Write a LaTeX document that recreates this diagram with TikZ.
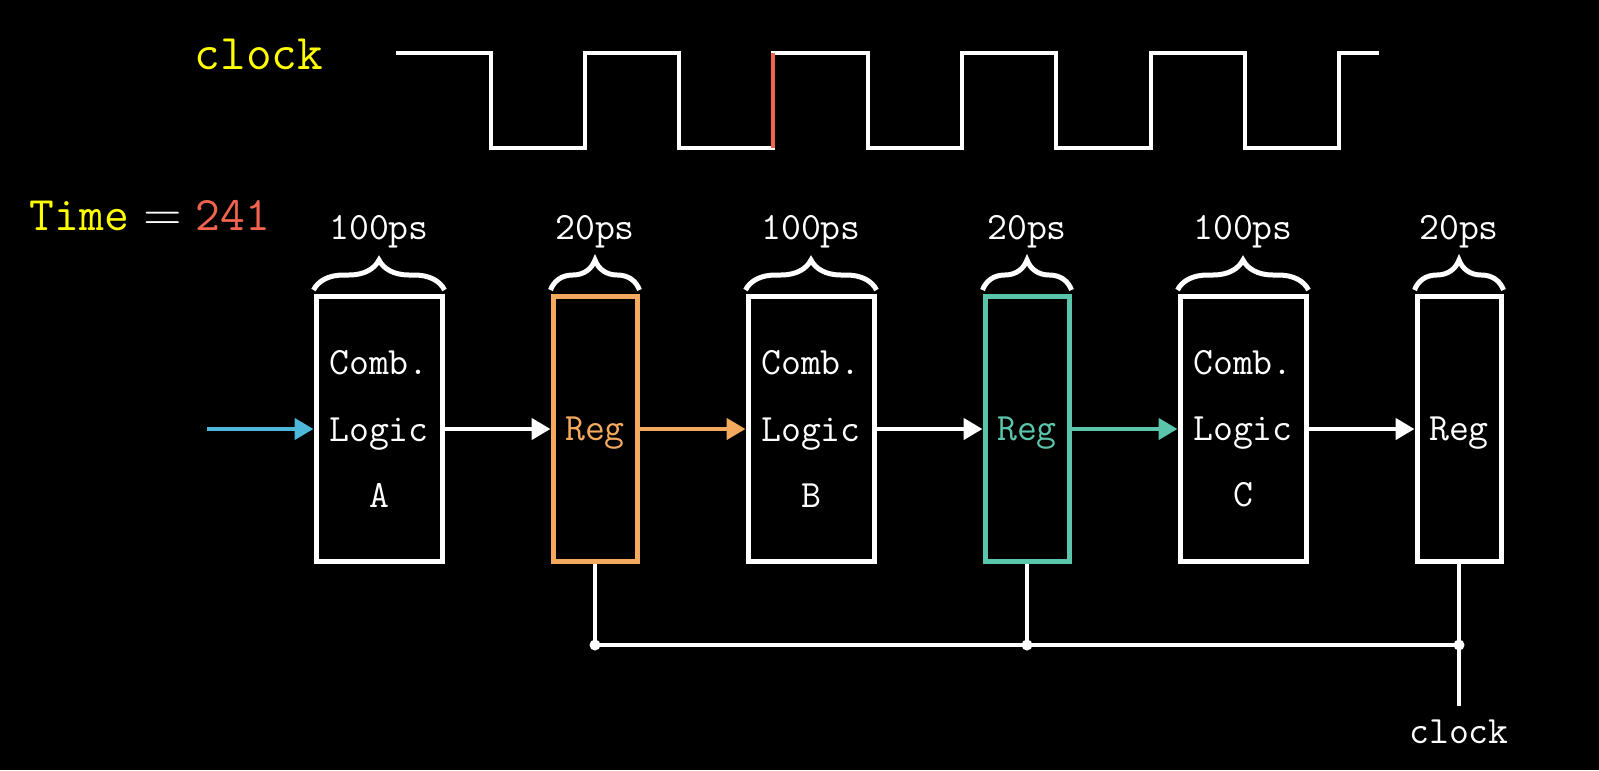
\documentclass[tikz,border=0pt]{standalone}
\usepackage{fontspec}
\usetikzlibrary{arrows.meta,decorations.pathreplacing,positioning}

\definecolor{clkyellow}{HTML}{FFFF00}
\definecolor{regorange}{HTML}{F4AA5E}
\definecolor{regteal}{HTML}{5BC5AB}
\definecolor{inblue}{HTML}{4DB8DA}
\definecolor{edgered}{HTML}{F2644E}

\newcommand{\bigtt}{\fontsize{14.2}{17}\selectfont\ttfamily}
\newcommand{\timett}{\fontsize{13.7}{16}\selectfont\ttfamily}
\newcommand{\boxtt}{\fontsize{11}{18.8}\selectfont\ttfamily}

\begin{document}
\begin{tikzpicture}[x=0.1mm, y=-0.1mm, line width=0.45mm, white,
    >={Triangle[length=1.9mm,width=2.1mm]},
    every node/.style={text=white, font=\boxtt},
    combbox/.style={draw=white, line width=0.5mm, minimum width=12.6mm, minimum height=26.5mm, align=center, inner sep=0pt},
    regbox/.style={draw=white, line width=0.5mm, minimum width=8.4mm, minimum height=26.5mm, inner sep=0pt, text depth=0pt},
    delay/.style={decorate, decoration={brace, amplitude=3mm}, line width=0.5mm},
    wire/.style={->, line width=0.45mm},
    junction/.style={circle, fill=white, draw=none, inner sep=0pt, minimum size=1.1mm}]
	% 1. 背景与边界
	\fill[black] (0,0) rectangle (1599,770);
	
	% 2. 时钟波形 (上升沿标红)
	\node[text=clkyellow, font=\bigtt] (clklbl) at (259,54) {clock};
	\draw[line width=0.4mm, line join=miter] (396,53)
	  \foreach \k in {0,...,4} { -- ({490.5+188.6*\k},53) -- ++(0,95) -- ++(94.3,0) -- ++(0,-95) }
	  -- (1379,53);
	\draw[edgered, line width=0.4mm] (773.4,148) -- (773.4,53);
	
	% 当前时间
	\node[font=\timett] (timelbl) at (150,216) {$\texttt{\color{clkyellow}Time}=\texttt{\color{edgered}241}$};
	
	% 3. 组合逻辑与寄存器
	\node[combbox] (combA) at (379,429) {Comb.\\Logic\\A};
	\node[regbox, draw=regorange, text=regorange] (regA) at (595,429) {Reg};
	\node[combbox] (combB) at (811,429) {Comb.\\Logic\\B};
	\node[regbox, draw=regteal, text=regteal] (regB) at (1027,429) {Reg};
	\node[combbox] (combC) at (1243,429) {Comb.\\Logic\\C};
	\node[regbox] (regC) at (1459,429) {Reg};
	
	% 4. 延迟括号与标注
	\draw[delay] ([yshift=0.4mm]combA.north west) -- ([yshift=0.4mm]combA.north east);
	\draw[delay] ([yshift=0.4mm]regA.north west) -- ([yshift=0.4mm]regA.north east);
	\draw[delay] ([yshift=0.4mm]combB.north west) -- ([yshift=0.4mm]combB.north east);
	\draw[delay] ([yshift=0.4mm]regB.north west) -- ([yshift=0.4mm]regB.north east);
	\draw[delay] ([yshift=0.4mm]combC.north west) -- ([yshift=0.4mm]combC.north east);
	\draw[delay] ([yshift=0.4mm]regC.north west) -- ([yshift=0.4mm]regC.north east);
	\coordinate (lblrow) at (0,232);
	\node (dA) at (combA.north |- lblrow) {100ps};
	\node (dB) at (regA.north |- lblrow) {20ps};
	\node (dC) at (combB.north |- lblrow) {100ps};
	\node (dD) at (regB.north |- lblrow) {20ps};
	\node (dE) at (combC.north |- lblrow) {100ps};
	\node (dF) at (regC.north |- lblrow) {20ps};
	
	% 5. 数据通路
	\coordinate (din) at (207,429);
	\draw[wire, inblue] (din) -- (combA.west);
	\draw[wire] (combA.east) -- (regA.west);
	\draw[wire, regorange] (regA.east) -- (combB.west);
	\draw[wire] (combB.east) -- (regB.west);
	\draw[wire, regteal] (regB.east) -- (combC.west);
	\draw[wire] (combC.east) -- (regC.west);
	
	% 6. 时钟分配网络
	\coordinate (clkbus) at (0,645);
	\coordinate (tapA) at (regA.south |- clkbus);
	\coordinate (tapB) at (regB.south |- clkbus);
	\coordinate (tapC) at (regC.south |- clkbus);
	\node (clkout) at (1459,732) {clock};
	\draw (regA.south) -- (tapA);
	\draw (regB.south) -- (tapB);
	\draw (regC.south) -- (tapC);
	\draw (tapA) -- (tapC);
	\draw (tapC) -- (clkout.north);
	\node[junction] at (tapA) {}; \node[junction] at (tapB) {}; \node[junction] at (tapC) {};
\end{tikzpicture}
\end{document}
